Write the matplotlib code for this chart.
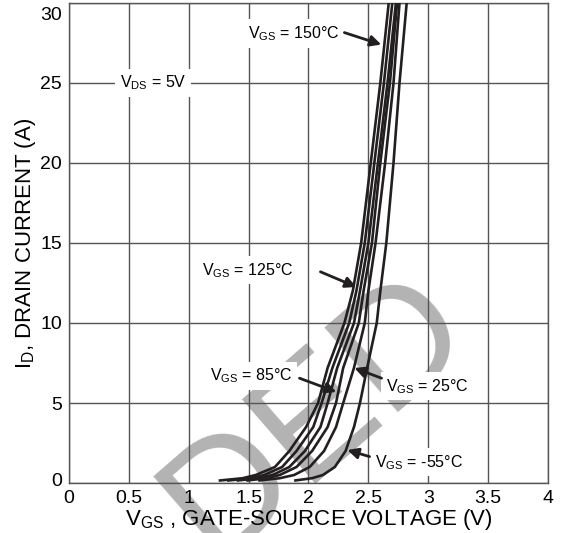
import numpy as np
import matplotlib
matplotlib.use('Agg')
import matplotlib.pyplot as plt
import matplotlib.transforms as mtransforms

plt.rcParams['font.family'] = ['Liberation Sans', 'DejaVu Sans']
plt.rcParams['mathtext.default'] = 'regular'

# drain current points (A), shared by all curves
i_d = [0.15, 0.3, 0.5, 1, 2, 3.5, 5, 7.2, 10, 12, 15, 20, 25, 30]

# gate-source voltage (V), left to right at the bottom
v_c1 = [1.25, 1.45, 1.56, 1.72, 1.84, 1.98, 2.08, 2.16, 2.30, 2.37, 2.44, 2.52, 2.60, 2.67]
v_c2 = [1.32, 1.52, 1.63, 1.78, 1.90, 2.04, 2.11, 2.20, 2.34, 2.40, 2.47, 2.55, 2.63, 2.70]
v_c3 = [1.40, 1.58, 1.70, 1.84, 1.97, 2.10, 2.16, 2.24, 2.38, 2.43, 2.50, 2.58, 2.66, 2.73]
v_c4 = [1.48, 1.65, 1.76, 1.90, 2.03, 2.16, 2.23, 2.29, 2.42, 2.46, 2.53, 2.60, 2.68, 2.74]
v_c5 = [1.58, 1.76, 1.88, 2.01, 2.13, 2.23, 2.29, 2.38, 2.47, 2.50, 2.56, 2.64, 2.71, 2.76]
v_c6 = [1.88, 2.03, 2.12, 2.22, 2.31, 2.38, 2.43, 2.49, 2.57, 2.60, 2.65, 2.71, 2.76, 2.82]
curves = [v_c1, v_c2, v_c3, v_c4, v_c5, v_c6]

x_ticks = [0, 0.5, 1, 1.5, 2, 2.5, 3, 3.5, 4]
x_tick_labels = ['0', '0.5', '1', '1.5', '2', '2.5', '3', '3.5', '4']
y_ticks = [0, 5, 10, 15, 20, 25, 30]

# (text, text pos, arrow tip, arrow tail)
notes = [
    ('$V_{GS}$ = 150°C', (1.875, 28.1), (2.608, 27.4), (2.30, 28.15)),
    ('$V_{GS}$ = 125°C', (1.495, 13.3), (2.40, 12.25), (2.10, 13.2)),
    ('$V_{GS}$ = 85°C', (1.52, 6.7), (2.233, 5.69), (1.925, 6.55)),
    ('$V_{GS}$ = 25°C', (2.99, 6.05), (2.383, 7.19), (2.61, 6.55)),
    ('$V_{GS}$ = -55°C', (2.92, 1.3), (2.325, 2.06), (2.51, 1.65)),
]

fig = plt.figure(figsize=(5.64, 5.33), dpi=100)
ax = fig.add_axes([0.1223, 0.0938, 0.8493, 0.9006])
ax.patch.set_alpha(0)

gc = '#555555'
ax.set_xlim(0, 4)
ax.set_ylim(0, 30)
ax.set_xticks(x_ticks)
ax.set_xticklabels(x_tick_labels)
ax.set_yticks(y_ticks)
ax.grid(True, color=gc, lw=1.0, zorder=1)
ax.set_axisbelow(True)
for s in ax.spines.values():
    s.set_color(gc)
    s.set_linewidth(1.0)
ax.tick_params(length=0, labelsize=14, pad=5)

# nudge end labels inwards like the original
ylabs = ax.get_yticklabels()
ylabs[0].set_transform(ylabs[0].get_transform() + mtransforms.ScaledTranslation(0, 4/100, fig.dpi_scale_trans))
ylabs[-1].set_transform(ylabs[-1].get_transform() + mtransforms.ScaledTranslation(0, -11/100, fig.dpi_scale_trans))

# watermark, drawn under the axes content
fig.text(0.562, 0.221, 'DED', fontsize=118, color='#b3b3b3', rotation=41,
         ha='center', va='center', zorder=-1)

for v in curves:
    ax.plot(v, i_d, color='#231f20', lw=1.9, zorder=4, solid_capstyle='butt')

ax.text(0.70, 25.0, '$V_{DS}$ = 5V', fontsize=11.5, ha='center', va='center', zorder=3,
        bbox=dict(boxstyle='square,pad=0.3', fc='white', ec='none'))

for txt, pos, tip, tail in notes:
    ax.text(pos[0], pos[1], txt, fontsize=11.5, ha='center', va='center', zorder=3,
            bbox=dict(boxstyle='square,pad=0.3', fc='white', ec='none'))
    ax.annotate('', xy=tip, xytext=tail, zorder=5,
                arrowprops=dict(arrowstyle='-|>', color='#231f20', lw=2.0,
                                mutation_scale=16, shrinkA=0, shrinkB=0))

ax.set_xlabel('$V_{GS}$ , GATE-SOURCE VOLTAGE (V)', fontsize=16, labelpad=0)
ax.set_ylabel('$I_D$, DRAIN CURRENT (A)', fontsize=16, labelpad=2)

fig.savefig('out.png', dpi=100)
